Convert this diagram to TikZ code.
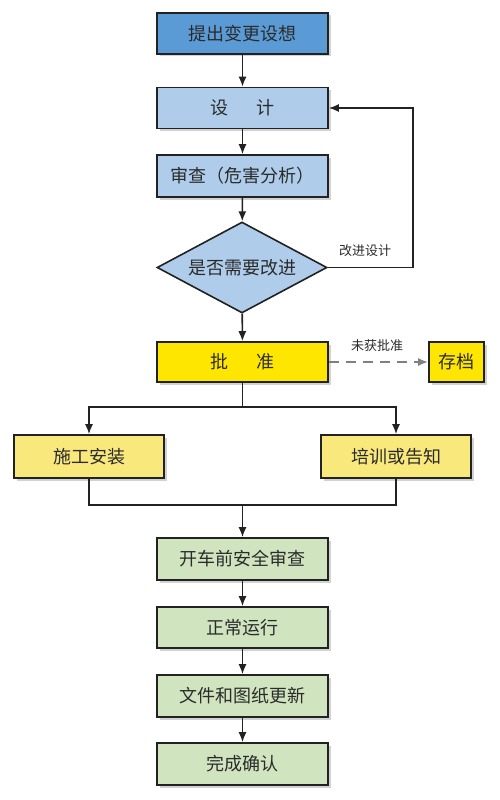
\documentclass[tikz,border=0pt]{standalone}
\usepackage{fontspec}
\setmainfont{Noto Sans CJK SC}
\usetikzlibrary{shapes.geometric,arrows.meta,shadows}
\definecolor{bluedark}{HTML}{5B9BD5}
\definecolor{bluelight}{HTML}{AFCDEA}
\definecolor{yelbright}{HTML}{FFE600}
\definecolor{yelpale}{HTML}{F9E87C}
\definecolor{greenl}{HTML}{CFE4BF}
\definecolor{txt}{HTML}{2B2B2B}
\definecolor{edge}{HTML}{222222}
\tikzset{
  box/.style={draw=edge, line width=1.6pt, rectangle, minimum width=171pt, minimum height=41pt, inner sep=0pt, text=txt,
    font=\fontsize{18pt}{21pt}\selectfont,
    drop shadow={shadow xshift=2.5pt, shadow yshift=-2.5pt, fill=black!35}},
  dia/.style={draw=edge, line width=1.6pt, diamond, minimum width=170pt, minimum height=91pt, inner sep=0pt, aspect=1.87, text=txt,
    font=\fontsize{18pt}{21pt}\selectfont},
  arr/.style={draw=edge, line width=1.6pt, -{Latex[length=10pt,width=8pt]}},
  ln/.style={draw=edge, line width=1.6pt},
  lbl/.style={text=txt, font=\fontsize{13pt}{15pt}\selectfont, inner sep=1pt}
}
\begin{document}
\begin{tikzpicture}[x=1pt,y=-1pt]
\useasboundingbox (0,0) rectangle (500,800);
\node[box, fill=bluedark] (n1) at (242.5,33.5) {提出变更设想};
\node[box, fill=bluelight] (n2) at (242.5,108) {设\hspace{1.6em}计};
\node[box, fill=bluelight, minimum height=42pt] (n3) at (242.5,176) {审查（危害分析）};
\node[dia, fill=bluelight] (d) at (242,267.5) {是否需要改进};
\node[box, fill=yelbright, minimum height=40pt] (n5) at (242.5,362) {批\hspace{1.6em}准};
\node[box, fill=yelbright, minimum width=55pt, minimum height=40pt] (cd) at (456.5,362) {存档};
\node[box, fill=yelpale, minimum width=150pt, minimum height=43pt] (n6) at (89,456.5) {施工安装};
\node[box, fill=yelpale, minimum width=150pt, minimum height=43pt] (n7) at (396,456.5) {培训或告知};
\node[box, fill=greenl, minimum height=42pt] (n8) at (242.5,559) {开车前安全审查};
\node[box, fill=greenl] (n9) at (242.5,627.5) {正常运行};
\node[box, fill=greenl, minimum height=42pt] (n10) at (242.5,696) {文件和图纸更新};
\node[box, fill=greenl, minimum height=42pt] (n11) at (242.5,764) {完成确认};
\coordinate (fb) at (413,267.5);
\coordinate (split) at (242.5,407);
\coordinate (merge) at (242.5,505);
\draw[arr] (n1) -- (n2);
\draw[arr] (n2) -- (n3);
\draw[arr] (n3) -- (d);
\draw[arr] (d.east) -- (fb) |- (n2.east);
\node[lbl] (l1) at (365,251) {改进设计};
\draw[arr] (d) -- (n5);
\draw[draw=black!50, line width=2.8pt, dash pattern=on 10pt off 7pt, -{Latex[length=10pt,width=8pt]}] (n5.east) -- (cd.west);
\node[lbl] (l2) at (377,346) {未获批准};
\draw[ln] (n5) -- (split);
\draw[arr] (split) -| (n6.north);
\draw[arr] (split) -| (n7.north);
\draw[ln] (n6.south) |- (merge) -| (n7.south);
\draw[arr] (merge) -- (n8);
\draw[arr] (n8) -- (n9);
\draw[arr] (n9) -- (n10);
\draw[arr] (n10) -- (n11);
\end{tikzpicture}
\end{document}
